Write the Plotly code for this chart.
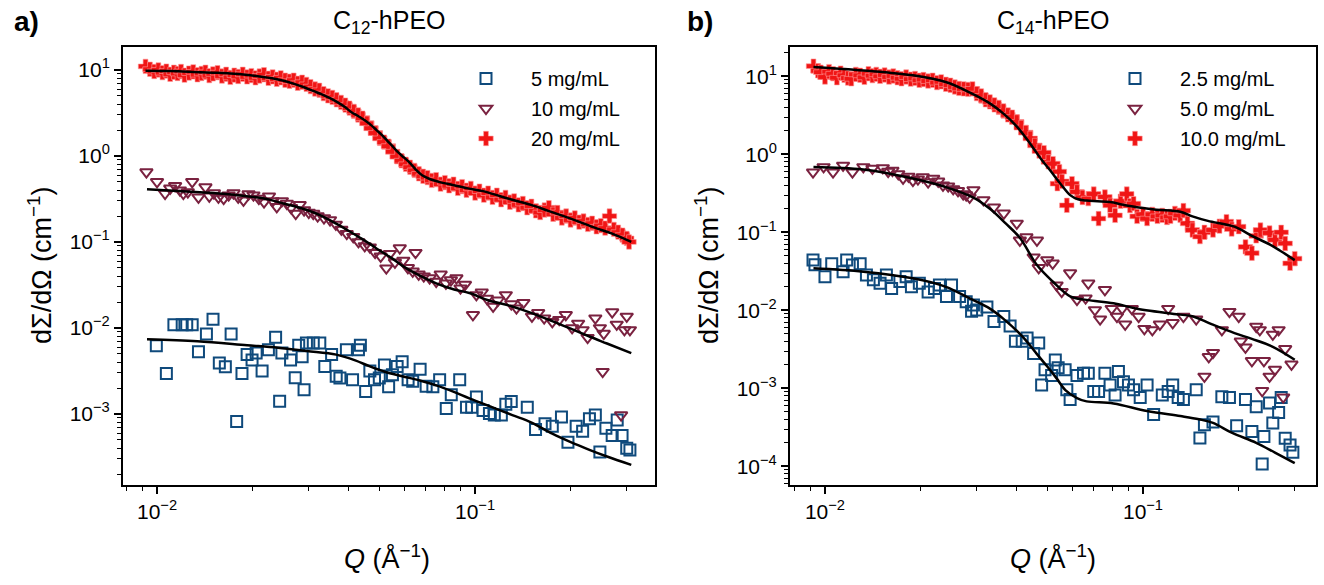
import plotly.graph_objects as go

# ---------------- Panel a) C12-hPEO ----------------
a_q20 = [0.0092, 0.0095, 0.0098, 0.0101, 0.0104, 0.0107, 0.0110, 0.0113, 0.0116, 0.0119,
         0.0122, 0.0126, 0.0130, 0.0134, 0.0138, 0.0142, 0.0146, 0.0150, 0.0155, 0.0160,
         0.0165, 0.0170, 0.0175, 0.0180, 0.0186, 0.0192, 0.0198, 0.0204, 0.0210, 0.0217,
         0.0224, 0.0231, 0.0238, 0.0245, 0.0253, 0.0261, 0.0269, 0.0277, 0.0286, 0.0295,
         0.0304, 0.0314, 0.0324, 0.0334, 0.0345, 0.0356, 0.0367, 0.0379, 0.0391, 0.0403,
         0.0416, 0.0429, 0.0443, 0.0457, 0.0471, 0.0486, 0.0502, 0.0518, 0.0534, 0.0551,
         0.0569, 0.0587, 0.0606, 0.0625, 0.0645, 0.0666, 0.0687, 0.0709, 0.0731, 0.0755,
         0.0779, 0.0804, 0.0829, 0.0856, 0.0883, 0.0911, 0.0940, 0.0970, 0.1001, 0.1033,
         0.1066, 0.1100, 0.1135, 0.1171, 0.1208, 0.1247, 0.1287, 0.1328, 0.1370, 0.1414,
         0.1459, 0.1505, 0.1553, 0.1603, 0.1654, 0.1707, 0.1761, 0.1817, 0.1875, 0.1935,
         0.1997, 0.2060, 0.2126, 0.2194, 0.2264, 0.2336, 0.2410, 0.2487, 0.2566, 0.2648,
         0.2733, 0.2820, 0.2910, 0.3000, 0.3050]
a_i20 = [11.0, 10.2, 9.6, 10.0, 9.3, 9.7, 8.9, 9.4, 9.1, 9.6,
         8.7, 9.2, 9.5, 8.8, 9.1, 9.4, 8.6, 9.0, 9.3, 8.5,
         8.9, 8.2, 8.7, 8.4, 8.9, 8.3, 8.6, 8.1, 8.5, 8.8,
         8.0, 8.3, 7.8, 8.1, 7.6, 7.4, 7.6, 7.0, 7.2, 6.8,
         6.4, 6.0, 5.8, 5.3, 5.0, 4.8, 4.5, 4.2, 3.9, 3.6,
         3.3, 3.0, 2.75, 2.4, 2.1, 1.85, 1.6, 1.45, 1.3, 1.12,
         0.98, 0.88, 0.80, 0.74, 0.68, 0.62, 0.58, 0.56, 0.52, 0.53,
         0.47, 0.49, 0.45, 0.47, 0.42, 0.44, 0.40, 0.42, 0.37, 0.39,
         0.35, 0.37, 0.33, 0.35, 0.31, 0.33, 0.29, 0.30, 0.27, 0.28,
         0.25, 0.26, 0.23, 0.22, 0.235, 0.25, 0.21, 0.22, 0.19, 0.20,
         0.18, 0.19, 0.17, 0.175, 0.16, 0.165, 0.15, 0.155, 0.145, 0.20,
         0.14, 0.13, 0.12, 0.11, 0.10]
a_fit20_q = [0.0092, 0.011, 0.013, 0.015, 0.017, 0.019, 0.021, 0.023, 0.025, 0.027,
             0.029, 0.031, 0.033, 0.035, 0.037, 0.039, 0.041, 0.043, 0.045, 0.047,
             0.049, 0.051, 0.053, 0.055, 0.057, 0.059, 0.061, 0.063, 0.065, 0.068,
             0.072, 0.077, 0.085, 0.095, 0.106, 0.12, 0.131, 0.15, 0.17, 0.19,
             0.21, 0.24, 0.27, 0.31]
a_fit20_i = [9.8, 9.7, 9.5, 9.3, 9.1, 8.8, 8.4, 8.0, 7.5, 6.9,
             6.3, 5.7, 5.2, 4.7, 4.2, 3.7, 3.2, 2.9, 2.6, 2.3,
             2.0, 1.75, 1.5, 1.3, 1.12, 1.0, 0.9, 0.8, 0.7, 0.6,
             0.54, 0.50, 0.46, 0.42, 0.39, 0.34, 0.31, 0.27, 0.23, 0.20,
             0.175, 0.145, 0.125, 0.10]

a_q10 = [0.00926, 0.0100, 0.0106, 0.0110, 0.0114, 0.0118, 0.0121, 0.0125, 0.0129, 0.0135,
         0.0142, 0.0146, 0.0151, 0.0156, 0.0162, 0.0168, 0.0174, 0.0180, 0.0187, 0.0194,
         0.0201, 0.0209, 0.0217, 0.0225, 0.0231, 0.0238, 0.0247, 0.0256, 0.0264, 0.0273,
         0.0281, 0.0290, 0.0300, 0.0310, 0.0320, 0.0335, 0.0350, 0.0365, 0.0380, 0.0395,
         0.0414, 0.0430, 0.0450, 0.0467, 0.0485, 0.0505, 0.0526, 0.0540, 0.0560, 0.0580,
         0.0595, 0.0615, 0.0637, 0.0650, 0.0665, 0.0690, 0.0720, 0.0755, 0.0780, 0.0810,
         0.0840, 0.0874, 0.0900, 0.0930, 0.0985, 0.1010, 0.1050, 0.1090, 0.1140, 0.1180,
         0.1250, 0.1300, 0.1350, 0.1420, 0.1510, 0.1580, 0.1650, 0.1750, 0.1840, 0.1930,
         0.2020, 0.2110, 0.2180, 0.2260, 0.2390, 0.2470, 0.2520, 0.2540, 0.2700, 0.2790,
         0.2880, 0.2950, 0.3000, 0.3070]
a_i10 = [0.65, 0.50, 0.366, 0.42, 0.45, 0.40, 0.366, 0.38, 0.50, 0.33,
         0.435, 0.34, 0.37, 0.33, 0.32, 0.35, 0.37, 0.33, 0.305, 0.36,
         0.35, 0.32, 0.29, 0.34, 0.30, 0.256, 0.30, 0.28, 0.25, 0.214,
         0.27, 0.235, 0.22, 0.214, 0.20, 0.19, 0.18, 0.16, 0.14, 0.125,
         0.115, 0.10, 0.09, 0.087, 0.075, 0.068, 0.0495, 0.073, 0.058, 0.085,
         0.061, 0.050, 0.0455, 0.075, 0.042, 0.040, 0.038, 0.0347, 0.042, 0.033,
         0.036, 0.038, 0.029, 0.032, 0.0142, 0.0242, 0.026, 0.022, 0.0178, 0.021,
         0.0242, 0.019, 0.017, 0.0197, 0.0136, 0.015, 0.013, 0.0118, 0.0125, 0.0142,
         0.010, 0.0113, 0.0095, 0.0077, 0.013, 0.0100, 0.0031, 0.0086, 0.0153, 0.0110,
         0.00097, 0.0095, 0.0136, 0.0095]
a_fit10_q = [0.0093, 0.012, 0.015, 0.018, 0.0217, 0.025, 0.0296, 0.033, 0.0366, 0.040,
             0.0435, 0.0467, 0.050, 0.055, 0.0595, 0.065, 0.0755, 0.086, 0.096, 0.11,
             0.131, 0.15, 0.175, 0.2, 0.23, 0.26, 0.31]
a_fit10_i = [0.41, 0.39, 0.37, 0.35, 0.32, 0.28, 0.235, 0.20, 0.163, 0.135,
             0.112, 0.095, 0.08, 0.064, 0.052, 0.043, 0.033, 0.028, 0.0255, 0.021,
             0.0178, 0.015, 0.012, 0.0098, 0.0079, 0.0066, 0.0051]

a_q5 = [0.00995, 0.0107, 0.0113, 0.0120, 0.0124, 0.0129, 0.0135, 0.0143, 0.0150, 0.0157,
        0.0164, 0.0171, 0.0178, 0.0185, 0.0192, 0.0199, 0.0205, 0.0214, 0.0224, 0.0236,
        0.0243, 0.0247, 0.0263, 0.0272, 0.0279, 0.0286, 0.0290, 0.0295, 0.0310, 0.0325,
        0.0337, 0.0354, 0.0366, 0.0376, 0.0394, 0.0412, 0.0430, 0.0436, 0.0453, 0.0467,
        0.0483, 0.0500, 0.0519, 0.0535, 0.0550, 0.0569, 0.0590, 0.0616, 0.0637, 0.0672,
        0.0702, 0.0737, 0.0774, 0.0812, 0.0842, 0.0895, 0.0940, 0.0976, 0.1010, 0.1060,
        0.1110, 0.1150, 0.1210, 0.1250, 0.1300, 0.1460, 0.1550, 0.1660, 0.1750, 0.1870,
        0.1960, 0.2080, 0.2180, 0.2290, 0.2390, 0.2470, 0.2580, 0.2700, 0.2800, 0.2900,
        0.3000, 0.3070]
a_i5 = [0.00622, 0.00295, 0.0109, 0.0109, 0.0109, 0.0109, 0.00529, 0.0085, 0.0126, 0.00392,
        0.00353, 0.0085, 0.000816, 0.00295, 0.0049, 0.00425, 0.0051, 0.00315, 0.00558, 0.00778,
        0.00141, 0.0051, 0.00425, 0.00264, 0.0063, 0.00464, 0.00191, 0.0067, 0.0067, 0.0067,
        0.00357, 0.0049, 0.00275, 0.00262, 0.00558, 0.0025, 0.00558, 0.0063, 0.00183, 0.00315,
        0.0025, 0.00262, 0.00372, 0.00207, 0.00285, 0.00357, 0.00405, 0.0025, 0.0024, 0.0033,
        0.0021, 0.00207, 0.0025, 0.00116, 0.00167, 0.0025, 0.0012, 0.0012, 0.00157, 0.0011,
        0.00101, 0.00097, 0.00097, 0.0013, 0.0014, 0.0012, 0.00066, 0.00077, 0.00072, 0.00092,
        0.00047, 0.00072, 0.00063, 0.00088, 0.00097, 0.00036, 0.00068, 0.00056, 0.00085, 0.00056,
        0.00040, 0.00038]
a_fit5_q = [0.0093, 0.0134, 0.0192, 0.0240, 0.0296, 0.0366, 0.042, 0.0467, 0.052, 0.059,
            0.067, 0.0755, 0.085, 0.096, 0.11, 0.131, 0.15, 0.175, 0.2, 0.23,
            0.26, 0.31]
a_fit5_i = [0.0074, 0.0070, 0.0063, 0.0059, 0.0054, 0.0049, 0.0042, 0.00357, 0.0031, 0.00275,
            0.00245, 0.00215, 0.00183, 0.00152, 0.00125, 0.00097, 0.00080, 0.00059, 0.00047, 0.00038,
            0.00032, 0.000256]

# ---------------- Panel b) C14-hPEO ----------------
b_q10 = [0.0092, 0.0095, 0.0097, 0.0100, 0.0103, 0.0106, 0.0109, 0.0112, 0.0115, 0.0118,
         0.0121, 0.0125, 0.0129, 0.0133, 0.0137, 0.0141, 0.0145, 0.0149, 0.0154, 0.0159,
         0.0164, 0.0169, 0.0174, 0.0180, 0.0186, 0.0192, 0.0198, 0.0204, 0.0211, 0.0218,
         0.0225, 0.0232, 0.0240, 0.0248, 0.0256, 0.0264, 0.0273, 0.0282, 0.0291, 0.0300,
         0.0310, 0.0320, 0.0330, 0.0341, 0.0352, 0.0364, 0.0376, 0.0388, 0.0401, 0.0414,
         0.0428, 0.0442, 0.0457, 0.0472, 0.0488, 0.0504, 0.0521, 0.0538, 0.0546, 0.0556,
         0.0576, 0.0598, 0.0620, 0.0645, 0.0673, 0.0700, 0.0725, 0.0759, 0.0788, 0.0817,
         0.0850, 0.0889, 0.0910, 0.0934, 0.0958, 0.1000, 0.1030, 0.1070, 0.1110, 0.1150,
         0.1190, 0.1220, 0.1260, 0.1310, 0.1340, 0.1380, 0.1430, 0.1510, 0.1560, 0.1660,
         0.1740, 0.1830, 0.1900, 0.2000, 0.2100, 0.2200, 0.2270, 0.2340, 0.2500, 0.2600,
         0.2720, 0.2800, 0.2900, 0.3000]
b_i10 = [13.5, 11.8, 11.3, 9.8, 11.5, 10.8, 9.6, 11.0, 10.3, 9.5,
         9.3, 10.6, 10.3, 9.7, 10.8, 10.2, 10.6, 10.0, 10.4, 9.8,
         10.1, 9.6, 9.3, 9.8, 9.2, 9.4, 8.9, 9.1, 8.7, 8.9,
         8.3, 8.5, 7.9, 7.7, 7.3, 7.0, 6.9, 6.8, 6.9, 6.0,
         5.6, 5.0, 4.7, 4.3, 4.0, 3.6, 3.2, 3.0, 2.6, 2.2,
         1.9, 1.6, 1.3, 1.1, 1.05, 0.80, 0.76, 0.42, 0.60, 0.45,
         0.222, 0.42, 0.33, 0.28, 0.27, 0.31, 0.15, 0.284, 0.222, 0.165,
         0.25, 0.31, 0.22, 0.233, 0.16, 0.17, 0.15, 0.17, 0.16, 0.165,
         0.155, 0.16, 0.175, 0.165, 0.19, 0.13, 0.107, 0.088, 0.10, 0.107,
         0.12, 0.137, 0.11, 0.118, 0.065, 0.054, 0.09, 0.107, 0.098, 0.08,
         0.10, 0.072, 0.040, 0.046]
b_fit10_q = [0.0092, 0.0132, 0.0189, 0.0241, 0.029, 0.033, 0.0365, 0.040, 0.0442, 0.048,
             0.0511, 0.055, 0.059, 0.0625, 0.0665, 0.072, 0.0788, 0.087, 0.0958, 0.11,
             0.131, 0.143, 0.16, 0.194, 0.22, 0.25, 0.27, 0.30]
b_fit10_i = [13.2, 11.9, 10.3, 8.4, 6.0, 4.5, 3.3, 2.3, 1.37, 0.85,
             0.62, 0.42, 0.30, 0.265, 0.255, 0.25, 0.244, 0.225, 0.21, 0.195,
             0.183, 0.16, 0.14, 0.118, 0.09, 0.07, 0.058, 0.044]

b_q5 = [0.00917, 0.0099, 0.0106, 0.0114, 0.0122, 0.0132, 0.0141, 0.0152, 0.0158, 0.0163,
        0.0170, 0.0176, 0.0183, 0.0189, 0.0196, 0.0203, 0.0211, 0.0219, 0.0227, 0.0235,
        0.0244, 0.0253, 0.0262, 0.0272, 0.0278, 0.0285, 0.0293, 0.0315, 0.0340, 0.0365,
        0.0401, 0.0410, 0.0430, 0.0453, 0.0464, 0.0470, 0.0500, 0.0520, 0.0535, 0.0555,
        0.0590, 0.0620, 0.0660, 0.0673, 0.0706, 0.0733, 0.0759, 0.0797, 0.0828, 0.0860,
        0.0879, 0.0922, 0.0969, 0.1010, 0.1070, 0.1130, 0.1200, 0.1240, 0.1340, 0.1470,
        0.1560, 0.1610, 0.1660, 0.1770, 0.1870, 0.2000, 0.2030, 0.2100, 0.2200, 0.2270,
        0.2330, 0.2370, 0.2400, 0.2500, 0.2560, 0.2600, 0.2670, 0.2760, 0.2800, 0.2930]
b_i5 = [0.59, 0.69, 0.59, 0.72, 0.59, 0.69, 0.66, 0.67, 0.60, 0.62,
        0.56, 0.49, 0.52, 0.46, 0.48, 0.51, 0.44, 0.49, 0.45, 0.40,
        0.39, 0.36, 0.34, 0.31, 0.30, 0.28, 0.35, 0.26, 0.21, 0.175,
        0.13, 0.079, 0.087, 0.048, 0.079, 0.035, 0.044, 0.040, 0.021, 0.0173,
        0.030, 0.0137, 0.0143, 0.0222, 0.0101, 0.0077, 0.0183, 0.0105, 0.0083, 0.0105,
        0.0066, 0.0105, 0.0083, 0.0058, 0.0056, 0.0066, 0.0105, 0.0069, 0.0083, 0.0077,
        0.00142, 0.00253, 0.00286, 0.0056, 0.0096, 0.0083, 0.0040, 0.00335, 0.00225, 0.0062,
        0.0056, 0.00093, 0.00225, 0.00142, 0.0049, 0.00174, 0.0056, 0.00077, 0.00321, 0.00203]
b_fit5_q = [0.0092, 0.0132, 0.0189, 0.0240, 0.0292, 0.033, 0.037, 0.041, 0.0464, 0.052,
            0.059, 0.0665, 0.0808, 0.0958, 0.131, 0.143, 0.165, 0.194, 0.22, 0.256, 0.30]
b_fit5_i = [0.69, 0.64, 0.49, 0.38, 0.28, 0.20, 0.13, 0.085, 0.038, 0.0234,
            0.0151, 0.0136, 0.0123, 0.0105, 0.0088, 0.0084, 0.0066, 0.0051, 0.0043, 0.0034, 0.00232]

b_q25 = [0.00917, 0.0093, 0.0100, 0.0105, 0.0114, 0.0117, 0.0122, 0.0129, 0.0135, 0.0142,
         0.0149, 0.0156, 0.0162, 0.0172, 0.0180, 0.0187, 0.0198, 0.0211, 0.0221, 0.0229,
         0.0241, 0.0250, 0.0265, 0.0278, 0.0289, 0.0293, 0.0300, 0.0323, 0.0340, 0.0365,
         0.0382, 0.0397, 0.0417, 0.0432, 0.0453, 0.0470, 0.0480, 0.0492, 0.0516, 0.0530,
         0.0541, 0.0569, 0.0576, 0.0590, 0.0620, 0.0650, 0.0673, 0.0700, 0.0725, 0.0759,
         0.0788, 0.0817, 0.0837, 0.0868, 0.0900, 0.0934, 0.0980, 0.1030, 0.1080, 0.1150,
         0.1200, 0.1240, 0.1290, 0.1340, 0.1470, 0.1510, 0.1560, 0.1660, 0.1770, 0.1870,
         0.1970, 0.2100, 0.2200, 0.2270, 0.2370, 0.2400, 0.2500, 0.2560, 0.2670, 0.2720,
         0.2800, 0.2900, 0.2960]
b_i25 = [0.044, 0.0385, 0.027, 0.0396, 0.0313, 0.044, 0.038, 0.0396, 0.0284, 0.0247,
         0.0222, 0.0284, 0.0191, 0.0234, 0.027, 0.0201, 0.0222, 0.0172, 0.0191, 0.0211,
         0.015, 0.0211, 0.015, 0.0129, 0.0097, 0.0117, 0.0101, 0.011, 0.0072, 0.0083,
         0.0063, 0.0040, 0.0040, 0.0044, 0.0028, 0.0038, 0.0011, 0.00173, 0.00146, 0.0023,
         0.00183, 0.00173, 0.00096, 0.00072, 0.00146, 0.00156, 0.00156, 0.00091, 0.00091, 0.00156,
         0.0011, 0.00082, 0.00164, 0.00121, 0.0011, 0.00096, 0.00076, 0.0011, 0.00046, 0.00082,
         0.00091, 0.0011, 0.00076, 0.00072, 0.00096, 0.00023, 0.00034, 0.00037, 0.00078, 0.00076,
         0.00033, 0.00072, 0.00028, 0.00058, 0.000107, 0.000241, 0.00065, 0.00036, 0.00049, 0.00076,
         0.000229, 0.000188, 0.000151]
b_fit25_q = [0.0092, 0.0132, 0.0189, 0.0240, 0.0286, 0.0330, 0.0365, 0.042, 0.0464, 0.050,
             0.0535, 0.057, 0.062, 0.0665, 0.0808, 0.103, 0.131, 0.15, 0.166, 0.19,
             0.227, 0.26, 0.30]
b_fit25_i = [0.0345, 0.0313, 0.0257, 0.020, 0.0141, 0.0105, 0.0077, 0.0045, 0.00274, 0.0019,
             0.00134, 0.00095, 0.00075, 0.00068, 0.00064, 0.00051, 0.00044, 0.00040, 0.00036, 0.00027,
             0.0002, 0.00015, 0.00011]

# ---------------- tick labels ----------------
x_tickvals = [0.01, 0.1]
x_ticktext = ['10<sup>\u22122</sup>', '10<sup>\u22121</sup>']
ya_tickvals = [1e-3, 1e-2, 1e-1, 1, 10]
ya_ticktext = ['10<sup>\u22123</sup>', '10<sup>\u22122</sup>', '10<sup>\u22121</sup>',
               '10<sup>0</sup>', '10<sup>1</sup>']
yb_tickvals = [1e-4, 1e-3, 1e-2, 1e-1, 1, 10]
yb_ticktext = ['10<sup>\u22124</sup>', '10<sup>\u22123</sup>', '10<sup>\u22122</sup>',
               '10<sup>\u22121</sup>', '10<sup>0</sup>', '10<sup>1</sup>']

BLUE = '#0f4a7c'
MAROON = '#7a2240'
RED = '#f01515'
FONT = 'Liberation Sans, Arial, sans-serif'

fig = go.Figure()


def add_sets(xa, ya, leg, sets, fits):
    for (q, i, name, sym, col) in sets:
        if sym == 'cross':
            mk = dict(symbol='cross', size=12, color=col, line=dict(width=0.6, color='#ff9a9a'))
        else:
            mk = dict(symbol=sym, size=11, color=col, line=dict(width=2, color=col))
        fig.add_trace(go.Scatter(x=q, y=i, mode='markers', name=name, marker=mk,
                                 xaxis=xa, yaxis=ya, legend=leg, legendgroup=leg + name))
    for (q, i) in fits:
        fig.add_trace(go.Scatter(x=q, y=i, mode='lines', line=dict(color='black', width=2.5, shape='spline'),
                                 xaxis=xa, yaxis=ya, showlegend=False, hoverinfo='skip'))


add_sets('x', 'y', 'legend',
         [(a_q5, a_i5, '5 mg/mL', 'square-open', BLUE),
          (a_q10, a_i10, '10 mg/mL', 'triangle-down-open', MAROON),
          (a_q20, a_i20, '20 mg/mL', 'cross', RED)],
         [(a_fit5_q, a_fit5_i), (a_fit10_q, a_fit10_i), (a_fit20_q, a_fit20_i)])
add_sets('x2', 'y2', 'legend2',
         [(b_q25, b_i25, '2.5 mg/mL', 'square-open', BLUE),
          (b_q5, b_i5, '5.0 mg/mL', 'triangle-down-open', MAROON),
          (b_q10, b_i10, '10.0 mg/mL', 'cross', RED)],
         [(b_fit25_q, b_fit25_i), (b_fit5_q, b_fit5_i), (b_fit10_q, b_fit10_i)])

W, H = 1324, 585
ydom = [1 - 485 / H, 1 - 47 / H]

axis_common = dict(type='log', showgrid=False, zeroline=False, showline=True, linecolor='black',
                   linewidth=2, mirror=True, ticks='outside', ticklen=7, tickwidth=1.5,
                   tickcolor='black', tickfont=dict(family=FONT, size=21, color='black'),
                   tickmode='array',
                   minor=dict(ticks='outside', ticklen=4, tickwidth=1.2, tickcolor='black',
                              dtick='D1', showgrid=False))

leg_common = dict(xanchor='left', yanchor='top', bgcolor='rgba(0,0,0,0)',
                  itemwidth=80, tracegroupgap=1, font=dict(family=FONT, size=20))

fig.update_layout(
    width=W, height=H, margin=dict(l=0, r=0, t=0, b=0),
    paper_bgcolor='white', plot_bgcolor='white',
    font=dict(family=FONT, size=21, color='black'),
    xaxis=dict(axis_common, domain=[123 / W, 655 / W], range=[-2.107, -0.434], anchor='y',
               tickvals=x_tickvals, ticktext=x_ticktext),
    yaxis=dict(axis_common, domain=ydom, range=[-3.826, 1.267], anchor='x',
               tickvals=ya_tickvals, ticktext=ya_ticktext),
    xaxis2=dict(axis_common, domain=[790 / W, 1316 / W], range=[-2.110, -0.456], anchor='y2',
                tickvals=x_tickvals, ticktext=x_ticktext),
    yaxis2=dict(axis_common, domain=ydom, range=[-4.24, 1.376], anchor='x2',
                tickvals=yb_tickvals, ticktext=yb_ticktext),
    legend=dict(leg_common, x=441 / W, y=1 - 59 / H),
    legend2=dict(leg_common, x=1090 / W, y=1 - 59 / H),
    showlegend=True,
)


def note(text, xpx, ypx, size, angle=0):
    return dict(text=text, x=xpx / W, y=1 - ypx / H, xref='paper', yref='paper',
                xanchor='center', yanchor='middle', showarrow=False, textangle=angle,
                font=dict(family=FONT, size=size, color='black'))


ann = [
    note('<b>a)</b>', 26, 22, 28),
    note('<b>b)</b>', 700, 22, 28),
    note('C<sub>12</sub>-hPEO', 389, 22, 25),
    note('C<sub>14</sub>-hPEO', 1053, 22, 25),
    note('d\u03a3/d\u03a9 (cm<sup>\u22121</sup>)', 40, 266, 27, -90),
    note('d\u03a3/d\u03a9 (cm<sup>\u22121</sup>)', 707, 266, 27, -90),
    note('<i>Q</i> (\u00c5<sup>\u22121</sup>)', 387, 557, 27),
    note('<i>Q</i> (\u00c5<sup>\u22121</sup>)', 1053, 557, 27),
]
fig.update_layout(annotations=ann)

fig.write_html('out.html')
